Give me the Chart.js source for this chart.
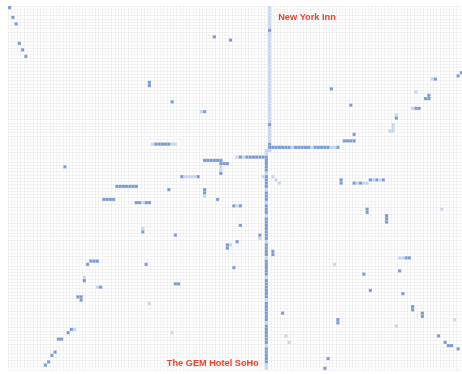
<!DOCTYPE html>
<html>
<head>
<meta charset="utf-8">
<title>Hotel matrix</title>
<script src="https://cdn.jsdelivr.net/npm/chart.js@4.4.1/dist/chart.umd.min.js"></script>
<style>
  html, body { margin: 0; padding: 0; background: #ffffff; }
  #wrap { width: 462px; height: 374px; position: relative; }
</style>
</head>
<body>
<div id="wrap"><canvas id="matrixChart"></canvas></div>
<script>
// Grootte van de matrix (kolommen x rijen)
const columnCount = 140;
const rowCount = 112;

// Gelabelde hotels en hun kolom
const hotelLabels = ['New York Inn', 'The GEM Hotel SoHo'];
const labelColumns = [80, 79];

// Sterke cellen [kolom, rij]
const strongCells = [
  [0, 0], [1, 3], [2, 5], [3, 11], [4, 13], [5, 15],
  [43, 23], [43, 24], [63, 9], [68, 10], [50, 29], [60, 32], [99, 25], [105, 30],
  [131, 22], [138, 21], [139, 20], [129, 27], [128, 28], [129, 28], [125, 31], [126, 31], [119, 34],
  [80, 7], [80, 36], [80, 42], [80, 43],
  [45, 42], [46, 42], [47, 42], [48, 42], [49, 42],
  [81, 43], [82, 43], [83, 43], [84, 43], [85, 43], [86, 43], [88, 43], [89, 43], [90, 43],
  [91, 43], [92, 43], [94, 43], [95, 43], [96, 43], [97, 43], [98, 43], [101, 43],
  [17, 49],
  [33, 55], [34, 55], [35, 55], [36, 55], [37, 55], [38, 55], [39, 55],
  [29, 59], [30, 59], [31, 59], [32, 59],
  [39, 60], [40, 60], [42, 60], [43, 60], [41, 69],
  [71, 46], [73, 46], [74, 46], [75, 46], [76, 46], [77, 46], [78, 46], [79, 46],
  [60, 47], [61, 47], [62, 47], [63, 47], [64, 47], [65, 47],
  [65, 48], [66, 48], [67, 48], [65, 51],
  [53, 52], [58, 52], [49, 56], [60, 56], [60, 57], [64, 59],
  [69, 61], [71, 61], [71, 67], [51, 70], [77, 70], [70, 72], [67, 73], [67, 74], [81, 75], [81, 76],
  [106, 39], [103, 41], [104, 41], [105, 41], [106, 41],
  [102, 53], [102, 54], [106, 54], [108, 54], [111, 53], [113, 53], [115, 53],
  [110, 62], [110, 63], [116, 64], [116, 65], [116, 66],
  [25, 78], [26, 78], [27, 78], [24, 79], [42, 79], [23, 84], [28, 86],
  [21, 89], [22, 89], [22, 90], [19, 99], [18, 100], [15, 102], [16, 102],
  [14, 106], [13, 107], [12, 109], [11, 110],
  [69, 80], [51, 85], [52, 85], [84, 94],
  [122, 77], [123, 77], [109, 82], [120, 81], [111, 87], [121, 88],
  [124, 92], [124, 93], [127, 94], [127, 95], [101, 96], [101, 97],
  [132, 101], [134, 103], [135, 104], [136, 104], [138, 105], [98, 108], [97, 111],
  [79, 47], [79, 48], [79, 49], [79, 50], [79, 52], [79, 53], [79, 54], [79, 55],
  [79, 57], [79, 58], [79, 59], [79, 61], [79, 62], [79, 63], [79, 65], [79, 66],
  [79, 67], [79, 68], [79, 69], [79, 70], [79, 71], [79, 73], [79, 74], [79, 75],
  [79, 76], [79, 78], [79, 79], [79, 80], [79, 81], [79, 82], [79, 84], [79, 85],
  [79, 86], [79, 87], [79, 88], [79, 89], [79, 91], [79, 92], [79, 93], [79, 94],
  [79, 95], [79, 96], [79, 98], [79, 99], [79, 100], [79, 101], [79, 102], [79, 103],
  [79, 105], [79, 106], [79, 107], [79, 108], [79, 109]
];

// Zwakke cellen [kolom, rij]
const faintCells = [
  [80, 0], [80, 1], [80, 2], [80, 3], [80, 4], [80, 5], [80, 6], [80, 8], [80, 9], [80, 10],
  [80, 11], [80, 12], [80, 13], [80, 14], [80, 15], [80, 16], [80, 17], [80, 18], [80, 19], [80, 20],
  [80, 21], [80, 22], [80, 23], [80, 24], [80, 25], [80, 26], [80, 27], [80, 28], [80, 29], [80, 30],
  [80, 31], [80, 32], [80, 33], [80, 34], [80, 35], [80, 37], [80, 38], [80, 39], [80, 40], [80, 41],
  [80, 44], [79, 44], [79, 45],
  [59, 32], [130, 22], [125, 26], [124, 31], [119, 33], [118, 36], [118, 37], [117, 38], [118, 38],
  [44, 42], [50, 42], [51, 42], [87, 43], [93, 43], [99, 43], [100, 43],
  [41, 60], [41, 68], [70, 46], [72, 46], [65, 49], [65, 50],
  [54, 52], [55, 52], [56, 52], [57, 52], [60, 58], [70, 61], [77, 71], [68, 73],
  [78, 52], [81, 52], [82, 53], [83, 54],
  [107, 54], [109, 54], [110, 54], [112, 53], [114, 53], [133, 62],
  [23, 83], [27, 86], [43, 91], [20, 99], [50, 100], [85, 101], [86, 103],
  [120, 77], [121, 77], [100, 79], [137, 96], [119, 98],
  [79, 51], [79, 56], [79, 60], [79, 64], [79, 72], [79, 77], [79, 83], [79, 90],
  [79, 97], [79, 104], [79, 110], [79, 111]
];

const strongColor = 'rgb(120, 156, 216)';
const faintColor = 'rgb(198, 214, 240)';
const labelColor = '#e4432b';

function toPoints(cells) {
  return cells.map(c => ({ x: c[0] + 0.5, y: c[1] + 0.5 }));
}

// Grootte van een vierkantje volgt de schaal
function cellRadius(ctx) {
  const s = ctx.chart.scales.x;
  const w = Math.abs(s.getPixelForValue(1) - s.getPixelForValue(0));
  return (w * 0.94) / Math.SQRT2;
}

// Tekst bij de gelabelde kolommen
const hotelLabelPlugin = {
  id: 'hotelLabels',
  afterDatasetsDraw(chart) {
    const { ctx, scales: { x, y } } = chart;
    ctx.save();
    ctx.fillStyle = labelColor;
    ctx.font = 'bold 9.2px "Liberation Sans", Arial, sans-serif';
    ctx.textBaseline = 'middle';
    ctx.textAlign = 'left';
    ctx.fillText(hotelLabels[0], x.getPixelForValue(labelColumns[0] + 1) + 7, y.getPixelForValue(0) + 11);
    ctx.textAlign = 'right';
    ctx.fillText(hotelLabels[1], x.getPixelForValue(labelColumns[1]) - 6, y.getPixelForValue(rowCount) - 7);
    ctx.restore();
  }
};

const gridStyle = {
  color: 'rgba(0, 0, 0, 0.045)',
  lineWidth: 1,
  drawTicks: false
};

new Chart(document.getElementById('matrixChart'), {
  type: 'scatter',
  data: {
    datasets: [
      {
        label: 'zwak',
        data: toPoints(faintCells),
        backgroundColor: faintColor,
        borderWidth: 0,
        pointStyle: 'rect',
        pointRadius: cellRadius,
        pointHoverRadius: cellRadius
      },
      {
        label: 'sterk',
        data: toPoints(strongCells),
        backgroundColor: strongColor,
        borderWidth: 0,
        pointStyle: 'rect',
        pointRadius: cellRadius,
        pointHoverRadius: cellRadius
      }
    ]
  },
  options: {
    responsive: true,
    maintainAspectRatio: false,
    animation: false,
    layout: { padding: { left: 8, top: 6, right: 0, bottom: 4 } },
    scales: {
      x: {
        type: 'linear',
        min: 0,
        max: columnCount - 0.3,
        grid: gridStyle,
        border: { display: false },
        ticks: { display: false, stepSize: 1, maxTicksLimit: 1000 }
      },
      y: {
        type: 'linear',
        reverse: true,
        min: 0,
        max: rowCount,
        grid: gridStyle,
        border: { display: false },
        ticks: { display: false, stepSize: 1, maxTicksLimit: 1000 }
      }
    },
    plugins: {
      legend: { display: false },
      tooltip: { enabled: false }
    }
  },
  plugins: [hotelLabelPlugin]
});
</script>
</body>
</html>
